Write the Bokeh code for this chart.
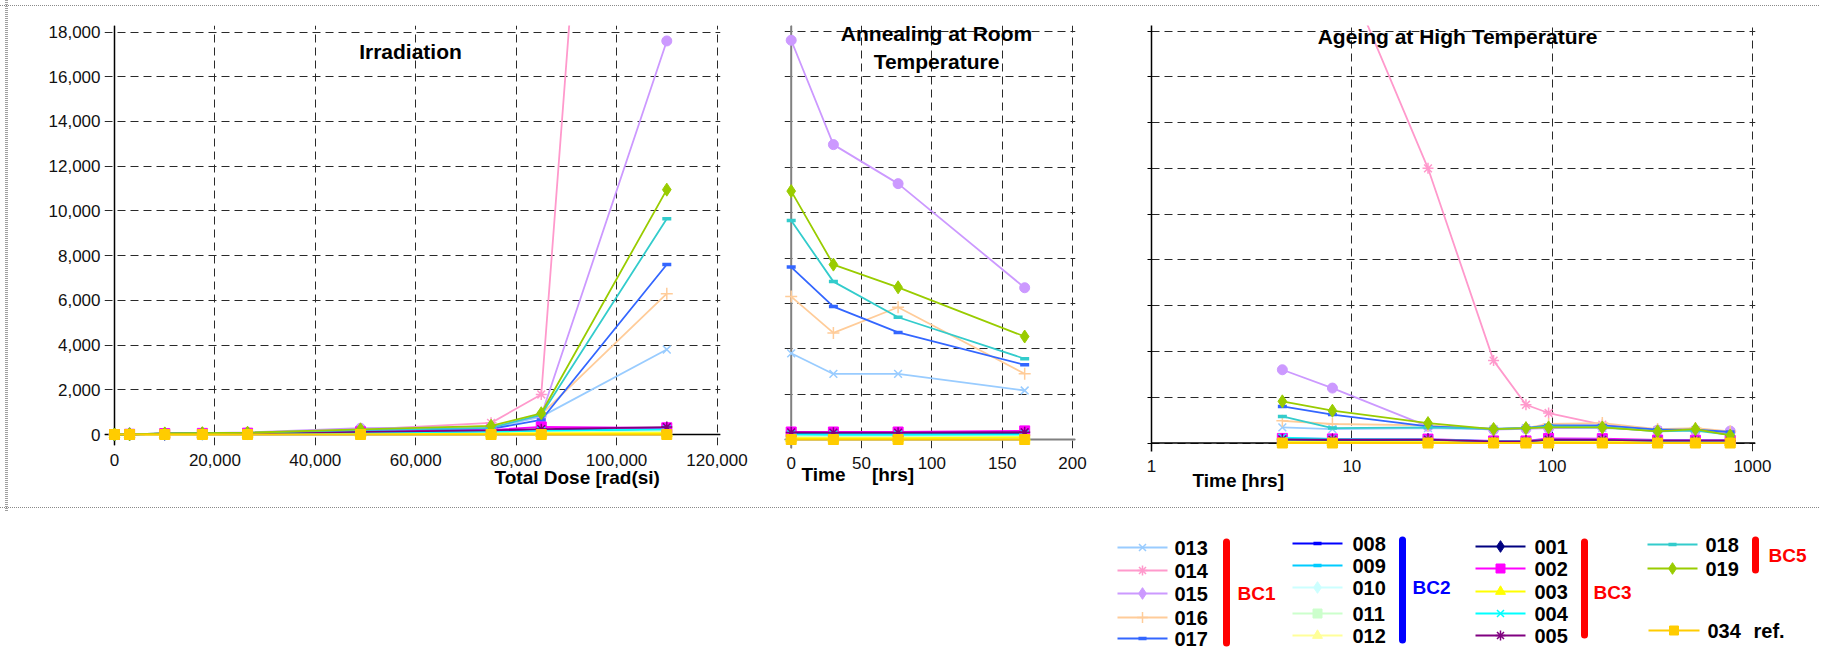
import math
from bokeh.plotting import figure
from bokeh.models import (Range1d, FixedTicker, NumeralTickFormatter, Span, Label, Title,
                          CustomJSTickFormatter)
from bokeh.layouts import row, column
from bokeh.embed import file_html
from bokeh.resources import INLINE
from bokeh.core.properties import value

FONT = "Liberation Sans"

# ---------------------------------------------------------------- data
SERIES = ["013", "014", "015", "016", "017",
          "008", "009", "010", "011", "012",
          "001", "002", "003", "004", "005",
          "018", "019", "034"]
COLORS = ["#99CCFF", "#FF99CC", "#CC99FF", "#FFCC99", "#3366FF",
          "#0000FF", "#00CCFF", "#CCFFFF", "#CCFFCC", "#FFFF99",
          "#000080", "#FF00FF", "#FFFF00", "#00FFFF", "#800080",
          "#33CCCC", "#99CC00", "#FFCC00"]
MARKERS = ["x", "asterisk", "circle", "cross", "dash",
           "dash", "dash", "diamond", "square", "triangle",
           "diamond", "square", "triangle", "x", "asterisk",
           "dash", "diamond", "square"]
LEGEND_MARKERS = ["x", "asterisk", "diamond", "cross", "dash",
                  "dash", "dash", "diamond", "square", "triangle",
                  "diamond", "square", "triangle", "x", "asterisk",
                  "dash", "diamond", "square"]

GROUP_NAMES = ["BC1", "BC2", "BC3", "BC5"]
GROUP_COLORS = ["#FF0000", "#0000FF", "#FF0000", "#FF0000"]
GROUP_MEMBERS = [["013", "014", "015", "016", "017"],
                 ["008", "009", "010", "011", "012"],
                 ["001", "002", "003", "004", "005"],
                 ["018", "019"]]
REF_SERIES = "034"
REF_LABEL = "ref."

PANEL_TITLES = ["Irradiation", "Annealing at Room", "Temperature", "Ageing at High Temperature"]
X_TITLES = ["Total Dose [rad(si)", "Time\u00a0\u00a0\u00a0\u00a0\u00a0[hrs]", "Time [hrs]"]

# Irradiation: total dose [rad(si)]
DOSE = [0, 3000, 10000, 17500, 26500, 49000, 75000, 85000, 110000]
IRR_013 = [0, 10, 40, 50, 60, 150, 280, 800, 3800]
IRR_014 = [0, 10, 50, 60, 80, 220, 520, 1790, 76000]
IRR_015 = [0, 10, 50, 60, 90, 280, 330, 850, 17600]
IRR_016 = [0, 10, 40, 50, 60, 180, 320, 900, 6300]
IRR_017 = [0, 10, 40, 50, 60, 150, 250, 650, 7600]
IRR_008 = [0, 10, 30, 40, 50, 80, 120, 150, 200]
IRR_009 = [0, 10, 30, 40, 50, 80, 120, 160, 220]
IRR_010 = [0, 5, 20, 30, 40, 60, 90, 110, 150]
IRR_011 = [0, 5, 20, 30, 40, 60, 90, 110, 150]
IRR_012 = [0, 5, 10, 20, 20, 30, 50, 60, 80]
IRR_001 = [0, 10, 30, 40, 50, 100, 150, 200, 250]
IRR_002 = [0, 10, 40, 50, 60, 120, 200, 340, 300]
IRR_003 = [0, 5, 10, 10, 20, 30, 40, 50, 60]
IRR_004 = [0, 10, 30, 40, 50, 90, 130, 170, 230]
IRR_005 = [0, 10, 40, 50, 60, 120, 180, 240, 330]
IRR_018 = [0, 10, 50, 60, 80, 200, 300, 880, 9650]
IRR_019 = [0, 10, 50, 60, 80, 230, 390, 950, 10950]
IRR_034 = [0, 0, 0, 0, 0, 0, 0, 0, 0]

# Annealing at room temperature: time [hrs]
ANN_HRS = [0, 30, 76, 166]
ANN_013 = [3800, 2890, 2890, 2160]
ANN_014 = [76000, 52000, 41000, 30000]
ANN_015 = [17600, 13000, 11280, 6690]
ANN_016 = [6300, 4700, 5830, 2900]
ANN_017 = [7600, 5860, 4720, 3290]
ANN_008 = [200, 200, 200, 210]
ANN_009 = [220, 210, 210, 220]
ANN_010 = [150, 140, 140, 150]
ANN_011 = [150, 140, 140, 150]
ANN_012 = [80, 70, 70, 80]
ANN_001 = [250, 240, 240, 250]
ANN_002 = [330, 330, 330, 380]
ANN_003 = [60, 60, 60, 100]
ANN_004 = [230, 220, 220, 230]
ANN_005 = [310, 300, 300, 320]
ANN_018 = [9650, 6960, 5390, 3560]
ANN_019 = [10950, 7710, 6710, 4540]
ANN_034 = [0, 0, 0, 0]

# Ageing at high temperature: time [hrs]
AGE_HRS = [4.5, 8, 24, 51, 74, 96, 178, 336, 519, 774]
AGE_013 = [680, 610, 650, 600, 650, 650, 650, 560, 560, 450]
AGE_014 = [28000, 21900, 12000, 3600, 1670, 1310, 800, 560, 540, 450]
AGE_015 = [3200, 2400, 730, 580, 620, 650, 700, 560, 560, 520]
AGE_016 = [970, 830, 770, 620, 650, 830, 870, 610, 650, 510]
AGE_017 = [1600, 1240, 730, 620, 650, 770, 770, 580, 580, 480]
AGE_008 = [150, 140, 130, 60, 60, 130, 130, 100, 100, 100]
AGE_009 = [180, 150, 140, 80, 80, 140, 140, 110, 100, 100]
AGE_010 = [100, 90, 80, 50, 50, 80, 80, 60, 60, 60]
AGE_011 = [100, 90, 80, 50, 50, 80, 80, 60, 60, 60]
AGE_012 = [50, 40, 40, 20, 20, 40, 40, 30, 30, 30]
AGE_001 = [150, 140, 140, 70, 70, 140, 140, 100, 100, 100]
AGE_002 = [200, 180, 170, 90, 90, 200, 190, 130, 120, 120]
AGE_003 = [40, 40, 40, 20, 20, 40, 40, 30, 30, 30]
AGE_004 = [230, 180, 160, 80, 80, 150, 150, 100, 100, 100]
AGE_005 = [160, 150, 150, 70, 70, 150, 140, 100, 100, 100]
AGE_018 = [1160, 650, 680, 620, 650, 730, 700, 510, 540, 360]
AGE_019 = [1820, 1410, 870, 610, 650, 680, 680, 510, 610, 330]
AGE_034 = [0, 0, 0, 0, 0, 0, 0, 0, 0, 0]

Y_TICKS = [0, 2000, 4000, 6000, 8000, 10000, 12000, 14000, 16000, 18000]
DOSE_TICKS = [0, 20000, 40000, 60000, 80000, 100000, 120000]
ANN_TICKS = [0, 50, 100, 150, 200]
AGE_TICKS = [1, 10, 100, 1000]

G = globals()
IRR = {s: G["IRR_" + s] for s in SERIES}
ANN = {s: G["ANN_" + s] for s in SERIES}
AGE = {s: G["AGE_" + s] for s in SERIES}

# ---------------------------------------------------------------- styles / layout
TOP = 0
ROW_H = 512
GRID_DASH = "8 5"
GRID_COLOR = "#2a2a2a"
MK_SIZE = {"x": 11, "asterisk": 11, "circle": 10, "cross": 12, "dash": 9,
           "diamond": 13, "square": 10, "triangle": 11}


def marker_kw(mk, col, scale=1.0):
    size = MK_SIZE[mk] * scale
    if mk in ("x", "asterisk", "cross"):
        return dict(size=size, line_color=col, line_width=1.5, fill_color=None)
    if mk == "dash":
        return dict(size=size, line_color=col, line_width=3.5)
    return dict(size=size, line_color=col, fill_color=col, line_width=1)


def draw_series(p, xs, table):
    for name, col, mk in zip(SERIES, COLORS, MARKERS):
        ys = table[name]
        p.line(xs, ys, line_color=col, line_width=1.8)
        p.scatter(xs, ys, marker=mk, **marker_kw(mk, col))


def base_fig(x_range, y_range, l, r, t, b, fx, fw, x_axis_type="linear"):
    p = figure(x_range=x_range, y_range=y_range, x_axis_type=x_axis_type,
               frame_width=r - l, frame_height=b - t,
               min_border_left=l - fx, min_border_right=fx + fw - r,
               min_border_top=t - TOP, min_border_bottom=TOP + ROW_H - b,
               toolbar_location=None, output_backend="svg",
               background_fill_color="white", border_fill_color=None)
    p.outline_line_color = None
    for g in (p.xgrid, p.ygrid):
        g.grid_line_color = GRID_COLOR
        g.grid_line_dash = GRID_DASH
        g.grid_line_width = 1
    return p


def style_xaxis(p, ticks, formatter):
    p.xaxis.ticker = FixedTicker(ticks=ticks)
    p.xgrid.ticker = FixedTicker(ticks=ticks)
    p.xaxis.formatter = formatter
    p.xaxis.axis_line_color = None
    p.xaxis.major_tick_line_color = None
    p.xaxis.minor_tick_line_color = None
    p.xaxis.major_tick_out = 0
    p.xaxis.major_tick_in = 0
    p.xaxis.major_label_standoff = 8
    p.xaxis.major_label_text_font = FONT
    p.xaxis.major_label_text_font_size = "17px"
    p.xaxis.major_label_text_color = "#111111"


def bold_label(p, x, y, text, size):
    p.add_layout(Label(x=x, y=y, text=text, text_font=FONT, text_font_size=size,
                       text_font_style="bold", text_align="center",
                       text_baseline="middle", text_color="black"))


def x_title(p, text, offset, standoff):
    p.add_layout(Title(text=text, align="left", offset=offset, standoff=standoff,
                       vertical_align="top", text_font=FONT, text_font_size="19px",
                       text_font_style="bold", text_color="black"), "below")


# ---------------------------------------------------------------- panel 1: irradiation
LXA, LXB = 114.0, 602.5 / 120000
LYA, LYB = 434.0, 402.5 / 18000
L_l, L_r, L_t, L_b = 104, 720, 25, 445
fl = base_fig(Range1d((L_l - LXA) / LXB, (L_r - LXA) / LXB),
              Range1d((LYA - L_b) / LYB, (LYA - L_t) / LYB),
              L_l, L_r, L_t, L_b, 0, 760)
style_xaxis(fl, DOSE_TICKS, NumeralTickFormatter(format="0,0"))
fl.yaxis.ticker = FixedTicker(ticks=Y_TICKS)
fl.ygrid.ticker = FixedTicker(ticks=Y_TICKS)
fl.yaxis.formatter = NumeralTickFormatter(format="0,0")
fl.yaxis.axis_line_color = None
fl.yaxis.major_tick_line_color = None
fl.yaxis.minor_tick_line_color = None
fl.yaxis.major_tick_out = 0
fl.yaxis.major_tick_in = 0
fl.yaxis.major_label_standoff = 4
fl.yaxis.major_label_text_font = FONT
fl.yaxis.major_label_text_font_size = "17px"
fl.yaxis.major_label_text_color = "#111111"
fl.add_layout(Span(location=0, dimension="height", line_color="black", line_width=1.5, level="underlay"))
fl.add_layout(Span(location=0, dimension="width", line_color="black", line_width=1.5, level="underlay"))
draw_series(fl, DOSE, IRR)
bold_label(fl, (410 - LXA) / LXB, (LYA - 51) / LYB, PANEL_TITLES[0], "21px")
x_title(fl, X_TITLES[0], 494 - L_l, -4)

# ---------------------------------------------------------------- panel 2: annealing
MXA, MXB = 790.7, (1072 - 790.7) / 200
MYA, MYB = 439.0, 408.3 / 18000
M_l, M_r, M_t, M_b = 784, 1075, 25, 448
fm = base_fig(Range1d((M_l - MXA) / MXB, (M_r - MXA) / MXB),
              Range1d((MYA - M_b) / MYB, (MYA - M_t) / MYB),
              M_l, M_r, M_t, M_b, 760, 350)
style_xaxis(fm, ANN_TICKS, NumeralTickFormatter(format="0"))
fm.yaxis.visible = False
fm.ygrid.ticker = FixedTicker(ticks=Y_TICKS)
fm.add_layout(Span(location=0, dimension="height", line_color="#808080", line_width=2, level="underlay"))
fm.add_layout(Span(location=0, dimension="width", line_color="#808080", line_width=2, level="underlay"))
draw_series(fm, ANN_HRS, ANN)
bold_label(fm, (936 - MXA) / MXB, (MYA - 33) / MYB, PANEL_TITLES[1], "21px")
bold_label(fm, (936 - MXA) / MXB, (MYA - 61) / MYB, PANEL_TITLES[2], "21px")
x_title(fm, X_TITLES[1], 801 - M_l, -16)

# ---------------------------------------------------------------- panel 3: ageing (log x)
RXA, RXB = 1151.0, 200.33
RYA, RYB = 441.5, 412.0 / 18000
R_l, R_r, R_t, R_b = 1151, 1755, 24, 450


def rx(px):
    return 10 ** ((px - RXA) / RXB)


fr = base_fig(Range1d(rx(R_l), rx(R_r)),
              Range1d((RYA - R_b) / RYB, (RYA - R_t) / RYB),
              R_l, R_r, R_t, R_b, 1110, 710, x_axis_type="log")
style_xaxis(fr, AGE_TICKS, NumeralTickFormatter(format="0"))
fr.yaxis.ticker = FixedTicker(ticks=Y_TICKS)
fr.ygrid.ticker = FixedTicker(ticks=Y_TICKS)
fr.yaxis.formatter = CustomJSTickFormatter(code="return ''")
fr.yaxis.axis_line_color = "black"
fr.yaxis.axis_line_width = 1.5
fr.yaxis.major_tick_line_color = "black"
fr.yaxis.major_tick_out = 4
fr.yaxis.major_tick_in = 0
fr.yaxis.minor_tick_line_color = None
fr.add_layout(Span(location=0, dimension="width", line_color="black", line_width=1.5, level="underlay"))
draw_series(fr, AGE_HRS, AGE)
bold_label(fr, rx(1457), (RYA - 35) / RYB, PANEL_TITLES[3], "21px")
x_title(fr, X_TITLES[2], 1192 - R_l, -10)

# ---------------------------------------------------------------- legend block
LEG_T, LEG_H, LEG_W = ROW_H, 136, 1820
leg = figure(x_range=Range1d(0, LEG_W), y_range=Range1d(LEG_T + LEG_H, LEG_T),
             frame_width=LEG_W, frame_height=LEG_H, min_border=0,
             x_axis_type=None, y_axis_type=None,
             toolbar_location=None, output_backend="svg",
             background_fill_color=None, border_fill_color=None)
leg.outline_line_color = None
leg.xgrid.visible = False
leg.ygrid.visible = False

LEG_COLS = [
    dict(x0=1117, x1=1167, xt=1174, ys=[547, 570, 593, 617, 638], bar_x=1226, bar_y=(538, 646), lab=(1237, 593)),
    dict(x0=1292, x1=1342, xt=1352, ys=[543, 565, 587, 613, 635], bar_x=1402, bar_y=(536, 643), lab=(1412, 587)),
    dict(x0=1475, x1=1525, xt=1534, ys=[546, 568, 591, 613, 635], bar_x=1584, bar_y=(538, 638), lab=(1593, 592)),
    dict(x0=1647, x1=1697, xt=1705, ys=[544, 568], bar_x=1755, bar_y=(536, 573), lab=(1768, 555)),
]
REF_POS = dict(x0=1648, x1=1699, xt=1707, y=630, xr=1753)


def legend_entry(name, x0, x1, xt, y):
    i = SERIES.index(name)
    col, mk = COLORS[i], LEGEND_MARKERS[i]
    leg.line([x0, x1], [y, y], line_color=col, line_width=2.2)
    leg.scatter([(x0 + x1) / 2], [y], marker=mk, **marker_kw(mk, col, 0.9))
    leg.text([xt], [y], text=[name], text_font=value(FONT), text_font_size="20px",
             text_font_style="bold", text_baseline="middle", text_align="left", text_color="black")


for members, gname, gcol, c in zip(GROUP_MEMBERS, GROUP_NAMES, GROUP_COLORS, LEG_COLS):
    for name, y in zip(members, c["ys"]):
        legend_entry(name, c["x0"], c["x1"], c["xt"], y)
    y0, y1 = c["bar_y"]
    leg.segment([c["bar_x"]], [y0 + 3.5], [c["bar_x"]], [y1 - 3.5], line_color=gcol,
                line_width=7, line_cap="round")
    leg.text([c["lab"][0]], [c["lab"][1]], text=[gname], text_font=value(FONT),
             text_font_size="19px", text_font_style="bold", text_baseline="middle",
             text_align="left", text_color=gcol)

legend_entry(REF_SERIES, REF_POS["x0"], REF_POS["x1"], REF_POS["xt"], REF_POS["y"])
leg.text([REF_POS["xr"]], [REF_POS["y"]], text=[REF_LABEL], text_font=value(FONT),
         text_font_size="20px", text_font_style="bold", text_baseline="middle",
         text_align="left", text_color="black")

# ---------------------------------------------------------------- page
# dotted frame round the chart area (top, bottom and left edges, open on the right)
FRAME_CSS = {
    "background-image": ("linear-gradient(to right, #8a8a8a 50%, transparent 50%), "
                         "linear-gradient(to right, #8a8a8a 50%, transparent 50%), "
                         "linear-gradient(to bottom, #a0a0a0 50%, transparent 50%)"),
    "background-size": "2px 1px, 2px 1px, 3px 2px",
    "background-position": "0 5px, 0 507px, 5px 0",
    "background-repeat": "repeat-x, repeat-x, repeat-y",
}
top = row(fl, fm, fr, spacing=0, styles=FRAME_CSS)
page = column(top, leg, spacing=0)
open("out.html", "w").write(file_html(page, INLINE))
